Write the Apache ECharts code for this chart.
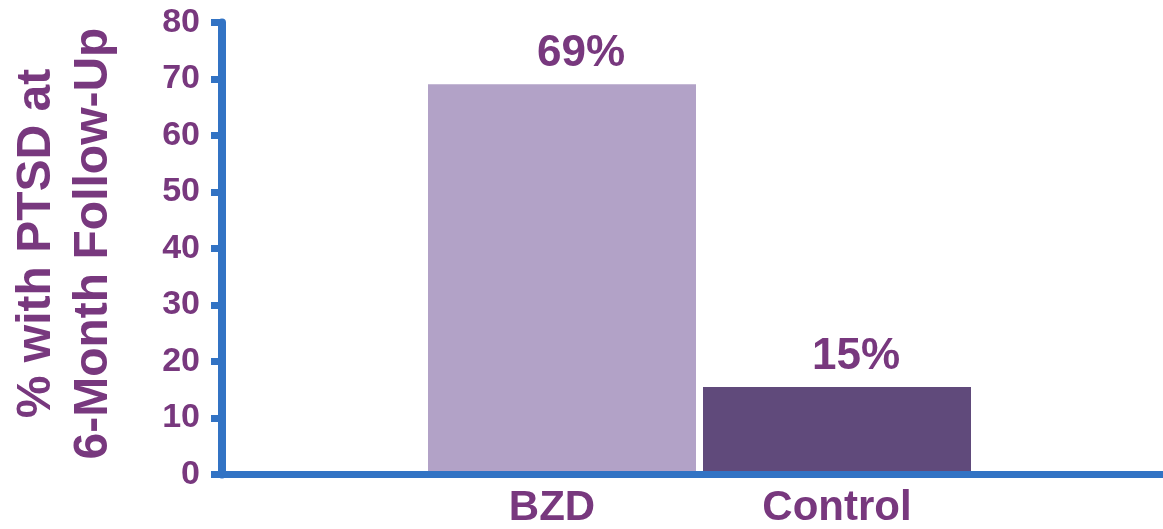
<!DOCTYPE html>
<html>
<head>
<meta charset="utf-8">
<script src="https://cdn.jsdelivr.net/npm/echarts@6/dist/echarts.min.js"></script>
<style>
  html, body { margin: 0; padding: 0; background: #ffffff; }
  #chart { width: 1163px; height: 529px; }
</style>
</head>
<body>
<div id="chart"></div>
<script>
// Share of patients with PTSD at the 6-month follow-up, by group
const categories = ['BZD', 'Control'];
const values = [69, 15];
const barColors = ['#B2A2C7', '#604A7B'];
const yMin = 0, yMax = 80, yStep = 10;
const yTitle = '% with PTSD at\n6-Month Follow-Up';

const FONT = "'Liberation Sans', Arial, sans-serif";
const TEXT = '#78387E';
const AXIS = '#3273C4';

const chart = echarts.init(document.getElementById('chart'), null, { renderer: 'canvas' });

chart.setOption({
  animation: false,
  backgroundColor: '#ffffff',
  grid: [
    // frame grid: carries the visible axes across the full width
    { left: 217, right: 0, top: 22.5, bottom: 54.5 },
    // bar grid: two adjacent categories
    { left: 424.5, width: 550, top: 22.5, bottom: 54.5 }
  ],
  xAxis: [
    {
      type: 'category', gridIndex: 0, data: [''], z: 10,
      axisLine: { show: true, lineStyle: { color: AXIS, width: 7 } },
      axisTick: { show: false },
      axisLabel: { show: false }
    },
    {
      type: 'category', gridIndex: 1, data: categories,
      axisLine: { show: false },
      axisTick: { show: false },
      axisLabel: {
        margin: 16,
        formatter: v => v === 'BZD' ? '{a|' + v + '}' : '{b|' + v + '}',
        rich: {
          a: { fontFamily: FONT, fontSize: 42, fontWeight: 'bold', color: TEXT, padding: [0, 20, 0, 0] },
          b: { fontFamily: FONT, fontSize: 42, fontWeight: 'bold', color: TEXT }
        }
      }
    }
  ],
  yAxis: [
    {
      type: 'value', gridIndex: 0, min: yMin, max: yMax, interval: yStep, z: 10,
      axisLine: { show: true, lineStyle: { color: AXIS, width: 8 } },
      axisTick: { show: true, length: 11, lineStyle: { color: AXIS, width: 7 } },
      splitLine: { show: false },
      axisLabel: { margin: 22, fontFamily: FONT, fontSize: 34, fontWeight: 'bold', color: TEXT },
      name: yTitle,
      nameLocation: 'middle',
      nameRotate: 90,
      nameGap: 100,
      nameTextStyle: {
        fontFamily: FONT, fontSize: 48, fontWeight: 'bold', color: TEXT,
        lineHeight: 57, padding: [0, 0, 0, 10]
      }
    },
    {
      type: 'value', gridIndex: 1, min: yMin, max: yMax, interval: yStep, show: false
    }
  ],
  series: [
    {
      type: 'bar',
      xAxisIndex: 1,
      yAxisIndex: 1,
      barWidth: 268,
      data: values.map((v, i) => ({ value: v, itemStyle: { color: barColors[i] } })),
      label: {
        show: true,
        position: 'top',
        distance: 8,
        offset: [19, 0],
        formatter: '{c}%',
        fontFamily: FONT,
        fontSize: 44,
        fontWeight: 'bold',
        color: TEXT
      }
    }
  ]
});
</script>
</body>
</html>
